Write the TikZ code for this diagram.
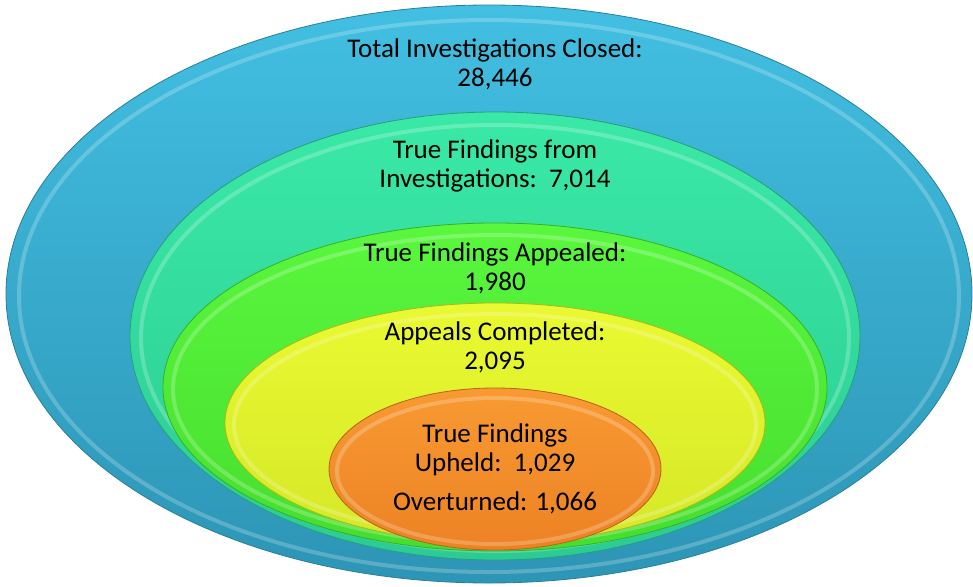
\documentclass[tikz,border=0pt]{standalone}
\usepackage{fontspec}
\setmainfont{Carlito}
\usetikzlibrary{shapes.geometric}
\definecolor{blueT}{HTML}{42BFE2}
\definecolor{blueB}{HTML}{2D95B5}
\definecolor{blueD}{HTML}{2A7F9C}
\definecolor{tealT}{HTML}{3AE9A6}
\definecolor{tealB}{HTML}{2CCB93}
\definecolor{tealD}{HTML}{26A07A}
\definecolor{greenT}{HTML}{5AF73E}
\definecolor{greenB}{HTML}{46DE2E}
\definecolor{greenD}{HTML}{3AAE28}
\definecolor{yelT}{HTML}{EAF931}
\definecolor{yelB}{HTML}{D5E827}
\definecolor{yelD}{HTML}{A9B820}
\definecolor{orT}{HTML}{F89A32}
\definecolor{orB}{HTML}{EC8224}
\definecolor{orD}{HTML}{B8631C}
\tikzset{
  layer/.style={ellipse, inner sep=0pt, line width=0.8pt},
  rim/.style={white, opacity=0.22, line width=4pt},
  lbl/.style={align=center, font=\fontsize{27}{29}\selectfont, text=black, inner sep=0pt}
}
\begin{document}
\begin{tikzpicture}[x=1pt,y=-1pt]
\useasboundingbox (0,0) rectangle (973,586);
% outer blue
\node[layer, minimum width=966pt, minimum height=578pt, top color=blueT, bottom color=blueB, draw=blueD] (blue) at (489,294) {};
\draw[rim] (489,296) ellipse [x radius=470, y radius=276];
% teal
\node[layer, minimum width=730pt, minimum height=448pt, top color=tealT, bottom color=tealB, draw=tealD] (teal) at (495,336) {};
\draw[rim] (495,338) ellipse [x radius=354, y radius=213];
% green
\node[layer, minimum width=664pt, minimum height=328pt, top color=greenT, bottom color=greenB, draw=greenD] (green) at (495,387) {};
\draw[rim] (495,389) ellipse [x radius=322, y radius=154];
% yellow
\node[layer, minimum width=540pt, minimum height=240pt, top color=yelT, bottom color=yelB, draw=yelD] (yellow) at (495,423) {};
\draw[rim] (495,425) ellipse [x radius=261, y radius=111];
% orange
\node[layer, minimum width=332pt, minimum height=162pt, top color=orT, bottom color=orB, draw=orD] (orange) at (495,469) {};
\draw[rim] (495,471) ellipse [x radius=158, y radius=73];
% labels
\node[lbl] (t1) at (495,64) {Total Investigations Closed:\\28,446};
\node[lbl] (t2) at (495,166) {True Findings from\\Investigations:\ \ 7,014};
\node[lbl] (t3) at (495,268) {True Findings Appealed:\\1,980};
\node[lbl] (t4) at (495,347) {Appeals Completed:\\2,095};
\node[lbl] (t5) at (495,450) {True Findings\\Upheld:\ \ 1,029};
\node[lbl] (t6) at (495,503) {Overturned: 1,066};
\end{tikzpicture}
\end{document}
